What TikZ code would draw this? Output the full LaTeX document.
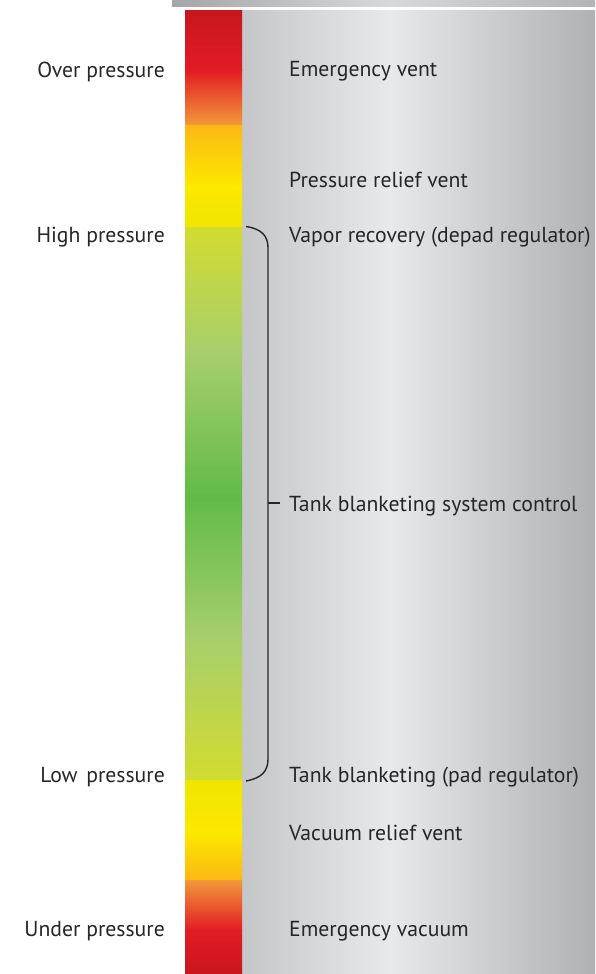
\documentclass[tikz,border=0pt]{standalone}
\usepackage{fontspec}
\setmainfont{PT Sans}
\definecolor{txt}{HTML}{262527}
\definecolor{gL}{HTML}{C5C6C8}
\definecolor{gM}{HTML}{E8E9EA}
\definecolor{gR}{HTML}{B0B1B3}
\definecolor{tL}{HTML}{A5A6A8}
\definecolor{tM}{HTML}{D8D9DA}
\definecolor{tR}{HTML}{B3B4B6}
\definecolor{rD}{HTML}{C8161D}
\definecolor{rB}{HTML}{E21C24}
\definecolor{oR}{HTML}{F2993A}
\definecolor{yO}{HTML}{FBB813}
\definecolor{yY}{HTML}{FDE800}
\definecolor{yL}{HTML}{EFE600}
\definecolor{lI}{HTML}{D2DC30}
\definecolor{gP}{HTML}{A8CF6B}
\definecolor{gG}{HTML}{62BB46}
\tikzset{
  lbl/.style={font=\fontsize{21.7}{24}\selectfont, text=txt, inner sep=0pt},
  leftlbl/.style={lbl, anchor=east},
  rightlbl/.style={lbl, anchor=west},
  bracket/.style={draw=txt, line width=1.4pt}
}
\begin{document}
\begin{tikzpicture}[x=1pt,y=-1pt]
\useasboundingbox (0,0) rectangle (595,974);
% top bar
\shade[left color=tL, right color=tM] (172,0) rectangle (390,7);
\shade[left color=tM, right color=tR] (389.5,0) rectangle (595,7);
% grey panel
\shade[left color=gL, right color=gM] (241,11) rectangle (390,974);
\shade[left color=gM, right color=gR] (389.5,11) rectangle (595,974);
% colour bar
\shade[top color=rD, bottom color=rB] (185,11) rectangle (242,70.5);
\shade[top color=rB, bottom color=oR] (185,70) rectangle (242,125);
\shade[top color=yO, bottom color=yY] (185,125) rectangle (242,185.5);
\shade[top color=yY, bottom color=yL] (185,185) rectangle (242,227);
\shade[top color=lI, bottom color=gP] (185,227) rectangle (242,350.5);
\shade[top color=gP, bottom color=gG] (185,350) rectangle (242,497.5);
\shade[top color=gG, bottom color=gP] (185,497) rectangle (242,640.5);
\shade[top color=gP, bottom color=lI] (185,640) rectangle (242,780);
\shade[top color=yL, bottom color=yY] (185,780) rectangle (242,833.5);
\shade[top color=yY, bottom color=yO] (185,833) rectangle (242,880);
\shade[top color=oR, bottom color=rB] (185,880) rectangle (242,930.5);
\shade[top color=rB, bottom color=rD] (185,930) rectangle (242,974);
% left labels
\node[leftlbl] (over) at (165,71.5) {Over pressure};
\node[leftlbl] (high) at (165,237.5) {High pressure};
\node[leftlbl] (low) at (165,777.5) {Low\hspace{0.4em}pressure};
\node[leftlbl] (under) at (165,931.5) {Under pressure};
% right labels
\node[rightlbl] (ev) at (289,71.5) {Emergency vent};
\node[rightlbl] (prv) at (289,179.5) {Pressure relief vent};
\node[rightlbl] (vr) at (289,237.5) {Vapor recovery (depad regulator)};
\node[rightlbl] (tbsc) at (289,506.5) {Tank blanketing system control};
\node[rightlbl] (tb) at (289,777.5) {Tank blanketing (pad regulator)};
\node[rightlbl] (vrv) at (289,832.5) {Vacuum relief vent};
\node[rightlbl] (evac) at (289,931.5) {Emergency vacuum};
% bracket
\coordinate (bt) at (246,226.5);
\coordinate (bb) at (246,781);
\coordinate (bm) at (268,503);
\coordinate (bk) at (280,503);
\draw[bracket] (bt) .. controls (262,229) and (268,236) .. (268,248)
  -- (268,759) .. controls (268,771) and (262,778) .. (bb);
\draw[bracket] (bm) -- (bk);
\end{tikzpicture}
\end{document}
